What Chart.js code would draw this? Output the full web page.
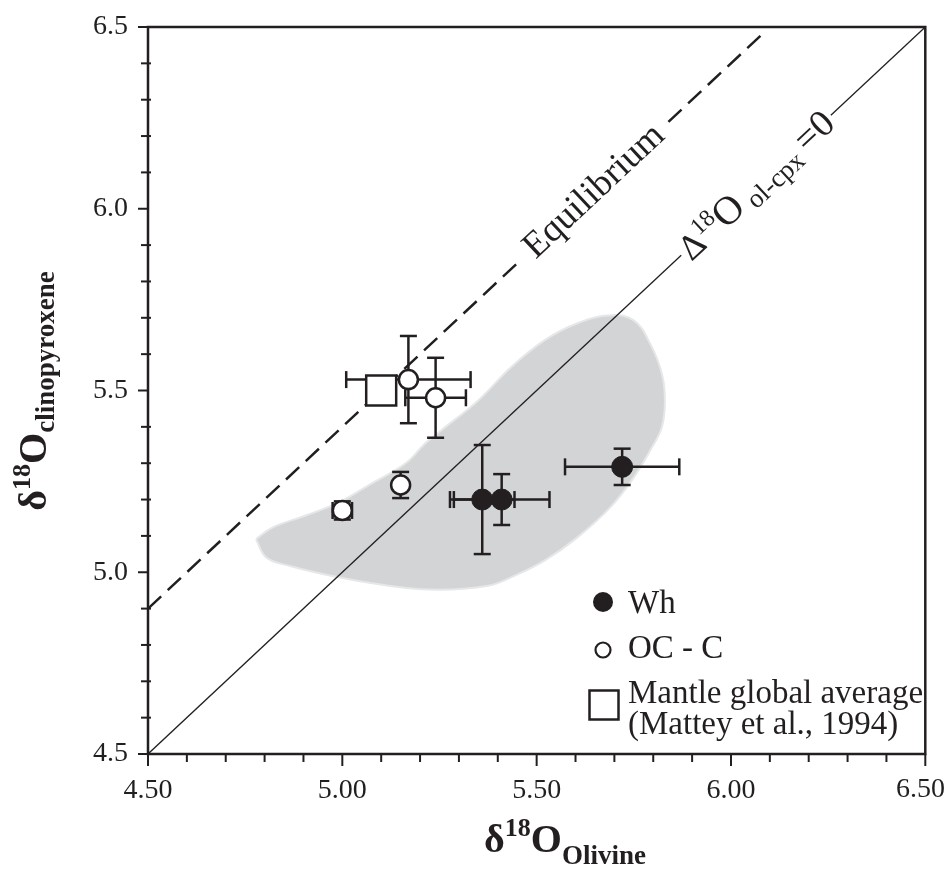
<!DOCTYPE html>
<html><head><meta charset="utf-8">
<script src="https://cdn.jsdelivr.net/npm/chart.js@4.4.0/dist/chart.umd.min.js"></script>
<style>html,body{margin:0;padding:0;background:#fff;overflow:hidden}#wrap{width:949px;height:883px;position:relative}</style>
</head><body><div id="wrap"><canvas id="c" width="949" height="883"></canvas></div>
<script>
// ---- data ----
const whX = [5.36, 5.41, 5.72];
const whY = [5.20, 5.20, 5.29];
const whXErr = [0.083, 0.123, 0.147];
const whYErr = [0.15, 0.07, 0.05];

const ocX = [5.17, 5.24, 5.15, 5.00];
const ocY = [5.53, 5.48, 5.24, 5.17];
const ocXErr = [0.16, 0.078, 0, 0.025];
const ocYErr = [0.12, 0.11, 0.036, 0.025];

const mantleX = [5.10];
const mantleY = [5.50];

const fieldX = [4.778,4.820,4.906,4.991,5.075,5.162,5.213,5.254,5.349,5.434,5.520,5.605,5.690,5.750,5.792,5.822,5.830,5.822,5.792,5.750,5.690,5.605,5.520,5.434,5.375,5.247,5.119,4.991,4.863,4.804,4.778];
const fieldY = [5.091,5.123,5.156,5.192,5.244,5.299,5.354,5.390,5.472,5.564,5.638,5.685,5.707,5.693,5.629,5.547,5.472,5.399,5.335,5.261,5.179,5.096,5.032,4.986,4.963,4.952,4.963,4.986,5.018,5.041,5.091];

// line segments (gap where the label sits)
const equilibriumX = [4.50, 5.457, 5.839, 6.09];
const equilibriumY = [4.90, 5.857, 6.239, 6.49];
const oneToOneX = [4.50, 5.872, 6.257, 6.50];
const oneToOneY = [4.50, 5.872, 6.257, 6.50];

const xMajorTicks = [4.5, 5.0, 5.5, 6.0, 6.5];
const xTickLabels = ['4.50', '5.00', '5.50', '6.00', '6.50'];
const yMajorTicks = [4.5, 5.0, 5.5, 6.0, 6.5];
const yTickLabels = ['4.5', '5.0', '5.5', '6.0', '6.5'];
const legendLabels = ['Wh', 'OC - C', 'Mantle global average', '(Mattey et al., 1994)'];

// ---- helpers ----
const INK = '#231f20';
const SERIF = '"Liberation Serif", "Times New Roman", serif';
const pts = (xs, ys) => xs.map((v, i) => ({x: v, y: ys[i]}));
const seg = (xs, ys, a, b) => [{x: xs[a], y: ys[a]}, {x: xs[b], y: ys[b]}];
function majorLabel(v, majors, labels) {
  for (let i = 0; i < majors.length; i++) if (Math.abs(v - majors[i]) < 1e-6) return labels[i];
  return '';
}
function line(ctx, a, b, c, d) { ctx.beginPath(); ctx.moveTo(a, b); ctx.lineTo(c, d); ctx.stroke(); }
function drawRuns(ctx, runs, x, y, angle) {
  let total = 0;
  runs.forEach(r => { ctx.font = r.font; r.w = ctx.measureText(r.t).width; total += r.w; });
  ctx.save(); ctx.translate(x, y); ctx.rotate(angle);
  ctx.textBaseline = 'alphabetic'; ctx.textAlign = 'left'; ctx.fillStyle = INK;
  let cur = -total / 2;
  runs.forEach(r => { ctx.font = r.font; ctx.fillText(r.t, cur, r.dy); cur += r.w; });
  ctx.restore();
}

function drawErrors(chart) {
  const {ctx, scales: {x, y}} = chart;
  ctx.save(); ctx.strokeStyle = INK; ctx.lineWidth = 2.5;
  const cap = 8.5;
  [[whX, whY, whXErr, whYErr], [ocX, ocY, ocXErr, ocYErr]].forEach(([xs, ys, xe, ye]) => {
    xs.forEach((v, i) => {
      const px = x.getPixelForValue(v), py = y.getPixelForValue(ys[i]);
      if (xe[i] > 0) {
        const a = x.getPixelForValue(v - xe[i]), b = x.getPixelForValue(v + xe[i]);
        line(ctx, a, py, b, py); line(ctx, a, py - cap, a, py + cap); line(ctx, b, py - cap, b, py + cap);
      }
      if (ye[i] > 0) {
        const a = y.getPixelForValue(ys[i] - ye[i]), b = y.getPixelForValue(ys[i] + ye[i]);
        line(ctx, px, a, px, b); line(ctx, px - cap, a, px + cap, a); line(ctx, px - cap, b, px + cap, b);
      }
    });
  });
  ctx.restore();
}

const deco = {
  id: 'deco',
  beforeDatasetDraw(chart, args) {
    if (chart.data.datasets[args.index].errorsBefore) drawErrors(chart);
  },
  afterDraw(chart) {
    const {ctx, chartArea: ca, scales: {x, y}} = chart;
    ctx.save();
    ctx.strokeStyle = INK; ctx.lineWidth = 2.5;
    ctx.strokeRect(ca.left, ca.top, ca.right - ca.left, ca.bottom - ca.top);
    ctx.lineWidth = 2;
    x.ticks.forEach(t => {
      const px = x.getPixelForValue(t.value);
      const major = majorLabel(t.value, xMajorTicks, xTickLabels) !== '';
      line(ctx, px, ca.bottom, px, ca.bottom + (major ? 12 : 8));
    });
    y.ticks.forEach(t => {
      const py = y.getPixelForValue(t.value);
      const major = majorLabel(t.value, yMajorTicks, yTickLabels) !== '';
      if (major) line(ctx, ca.left - 10, py, ca.left, py);
      else line(ctx, ca.left - 7, py, ca.left + 3, py);
    });
    ctx.fillStyle = INK; ctx.font = '28px ' + SERIF; ctx.textAlign = 'right'; ctx.textBaseline = 'middle';
    ctx.fillText(xTickLabels[xTickLabels.length - 1], chart.width - 4, ca.bottom + 36);

    const ex1 = x.getPixelForValue(equilibriumX[1]), ey1 = y.getPixelForValue(equilibriumY[1]);
    const ex2 = x.getPixelForValue(equilibriumX[2]), ey2 = y.getPixelForValue(equilibriumY[2]);
    const ea = Math.atan2(ey2 - ey1, ex2 - ex1);
    drawRuns(ctx, [{t: 'Equilibrium', font: '37px ' + SERIF, dy: 10}], (ex1 + ex2) / 2, (ey1 + ey2) / 2, ea);
    const ox1 = x.getPixelForValue(oneToOneX[1]), oy1 = y.getPixelForValue(oneToOneY[1]);
    const ox2 = x.getPixelForValue(oneToOneX[2]), oy2 = y.getPixelForValue(oneToOneY[2]);
    const oa = Math.atan2(oy2 - oy1, ox2 - ox1);
    drawRuns(ctx, [
      {t: 'Δ', font: '36px ' + SERIF, dy: 12},
      {t: '18', font: '24px ' + SERIF, dy: -2},
      {t: 'O', font: '40px ' + SERIF, dy: 12},
      {t: ' ol-cpx ', font: '27px ' + SERIF, dy: 18},
      {t: '=0', font: '38px ' + SERIF, dy: 12}
    ], (ox1 + ox2) / 2, (oy1 + oy2) / 2, oa);

    drawRuns(ctx, [
      {t: 'δ', font: 'bold 40px ' + SERIF, dy: 0},
      {t: '18', font: 'bold 26px ' + SERIF, dy: -16},
      {t: 'O', font: 'bold 40px ' + SERIF, dy: 0},
      {t: 'Olivine', font: 'bold 27px ' + SERIF, dy: 12}
    ], 565, 852, 0);
    drawRuns(ctx, [
      {t: 'δ', font: 'bold 40px ' + SERIF, dy: 0},
      {t: '18', font: 'bold 26px ' + SERIF, dy: -16},
      {t: 'O', font: 'bold 40px ' + SERIF, dy: 0},
      {t: 'clinopyroxene', font: 'bold 27px ' + SERIF, dy: 8}
    ], 46, 391, -Math.PI / 2);

    ctx.fillStyle = INK; ctx.strokeStyle = INK;
    ctx.beginPath(); ctx.arc(603, 602, 10, 0, Math.PI * 2); ctx.fill();
    ctx.lineWidth = 2.2; ctx.fillStyle = '#fff';
    ctx.beginPath(); ctx.arc(603, 650, 7.5, 0, Math.PI * 2); ctx.fill(); ctx.stroke();
    ctx.lineWidth = 2.5; ctx.strokeRect(589.5, 690.5, 29, 29);
    ctx.fillStyle = INK; ctx.font = '33px ' + SERIF; ctx.textAlign = 'left'; ctx.textBaseline = 'alphabetic';
    ctx.fillText(legendLabels[0], 628, 613);
    ctx.fillText(legendLabels[1], 628, 658);
    ctx.fillText(legendLabels[2], 628, 703);
    ctx.fillText(legendLabels[3], 628, 734);
    ctx.restore();
  }
};

const hiddenTicks = {display: true, drawOnChartArea: false, drawTicks: true, tickLength: 20, tickColor: 'rgba(0,0,0,0)', color: 'rgba(0,0,0,0)'};

new Chart(document.getElementById('c'), {
  type: 'scatter',
  data: {
    datasets: [
      {label: 'Wh', data: pts(whX, whY), order: 1, pointStyle: 'circle', pointRadius: 10.5,
        backgroundColor: INK, borderColor: INK, borderWidth: 1},
      {label: 'OC - C', data: pts(ocX, ocY), order: 2, pointStyle: 'circle', pointRadius: 9.5,
        backgroundColor: '#fff', borderColor: INK, borderWidth: 2.5},
      {label: 'Mantle global average', data: pts(mantleX, mantleY), order: 3, pointStyle: 'rect', pointRadius: 21.2,
        backgroundColor: '#fff', borderColor: INK, borderWidth: 2.5, errorsBefore: true},
      {label: 'Equilibrium a', data: seg(equilibriumX, equilibriumY, 0, 1), order: 9, showLine: true, pointRadius: 0,
        borderColor: INK, borderWidth: 2.5, borderDash: [18, 9]},
      {label: 'Equilibrium b', data: seg(equilibriumX, equilibriumY, 2, 3), order: 9, showLine: true, pointRadius: 0,
        borderColor: INK, borderWidth: 2.5, borderDash: [18, 9]},
      {label: '1:1 a', data: seg(oneToOneX, oneToOneY, 0, 1), order: 9, showLine: true, pointRadius: 0,
        borderColor: INK, borderWidth: 1.3},
      {label: '1:1 b', data: seg(oneToOneX, oneToOneY, 2, 3), order: 9, showLine: true, pointRadius: 0,
        borderColor: INK, borderWidth: 1.3},
      {label: 'field', data: pts(fieldX, fieldY), order: 10, showLine: true, pointRadius: 0, tension: 0.4,
        fill: 'shape', backgroundColor: '#d3d4d6', borderColor: '#e6e7e8', borderWidth: 2}
    ]
  },
  options: {
    responsive: false, animation: false, devicePixelRatio: 1,
    layout: {padding: {top: 27, right: 20, left: 0, bottom: 0}},
    plugins: {legend: {display: false}, tooltip: {enabled: false}},
    scales: {
      x: {
        type: 'linear', min: 4.5, max: 6.5,
        afterFit(s) { s.height = 129; s.paddingRight = 0; s.paddingLeft = 0; },
        grid: hiddenTicks,
        border: {display: false},
        ticks: {stepSize: 0.1, autoSkip: false, maxRotation: 0, minRotation: 0, padding: 0, color: INK,
          font: {family: SERIF, size: 28},
          callback: v => (Math.abs(v - 6.5) < 1e-6 ? '' : majorLabel(v, xMajorTicks, xTickLabels))}
      },
      y: {
        type: 'linear', min: 4.5, max: 6.5,
        afterFit(s) { s.width = 148; },
        grid: hiddenTicks,
        border: {display: false},
        ticks: {stepSize: 0.1, autoSkip: false, padding: 0, color: INK,
          font: {family: SERIF, size: 28},
          callback: v => majorLabel(v, yMajorTicks, yTickLabels)}
      }
    }
  },
  plugins: [deco]
});
</script></body></html>
